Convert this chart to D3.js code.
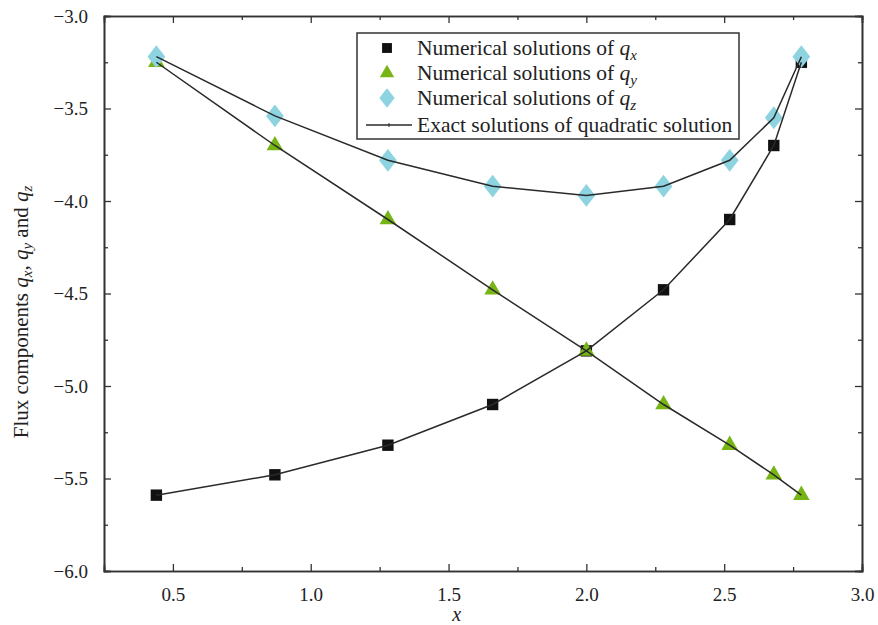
<!DOCTYPE html>
<html>
<head>
<meta charset="utf-8">
<script src="https://cdn.jsdelivr.net/npm/d3@7"></script>
<style>
  body { margin: 0; background: #fff; }
  svg text { font-family: "Liberation Serif", "Times New Roman", serif; fill: #222; }
</style>
</head>
<body>
<svg id="chart" width="878" height="625"></svg>
<script>
// data
var xs = [0.44, 0.87, 1.28, 1.66, 2.0, 2.28, 2.52, 2.68, 2.78];
var qx = [-5.59, -5.48, -5.32, -5.10, -4.81, -4.48, -4.10, -3.70, -3.25];
var qy = [-3.25, -3.70, -4.10, -4.48, -4.81, -5.10, -5.32, -5.48, -5.59];
var qz = [-3.22, -3.54, -3.78, -3.92, -3.97, -3.92, -3.78, -3.55, -3.22];
var xTicks = [0.5, 1.0, 1.5, 2.0, 2.5, 3.0];
var yTicks = [-3.0, -3.5, -4.0, -4.5, -5.0, -5.5, -6.0];

var svg = d3.select("#chart");
var mLeft = 104, mRight = 862, mTop = 16, mBottom = 571;
var serif = "'Liberation Serif', 'Times New Roman', serif";

var x = d3.scaleLinear().domain([0.25, 3.0]).range([mLeft, mRight]);
var y = d3.scaleLinear().domain([-6.0, -3.0]).range([mBottom, mTop]);

var plot = svg.append("g");

// axes, ticks inward on all four sides
function minor(a) { var out = []; for (var i = 0; i < a.length - 1; i++) out.push((a[i] + a[i + 1]) / 2); return out; }
var xMinor = minor(xTicks);
var yMinor = minor(yTicks);

function addAxis(axis, tx, ty) {
  return svg.append("g").attr("transform", "translate(" + tx + "," + ty + ")").call(axis)
    .attr("font-family", null).attr("font-size", null);
}
addAxis(d3.axisBottom(x).tickValues(xTicks).tickSize(-7).tickPadding(17).tickFormat(d3.format(".1f")), 0, mBottom);
addAxis(d3.axisBottom(x).tickValues(xMinor).tickSize(-4).tickFormat(""), 0, mBottom);
addAxis(d3.axisTop(x).tickValues(xTicks).tickSize(-7).tickFormat(""), 0, mTop);
addAxis(d3.axisTop(x).tickValues(xMinor).tickSize(-4).tickFormat(""), 0, mTop);
var axL = addAxis(d3.axisLeft(y).tickValues(yTicks).tickSize(-7).tickPadding(16).tickFormat(d3.format(".1f")), mLeft, 0);
addAxis(d3.axisLeft(y).tickValues(yMinor).tickSize(-4).tickFormat(""), mLeft, 0);
addAxis(d3.axisRight(y).tickValues(yTicks).tickSize(-7).tickFormat(""), mRight, 0);
addAxis(d3.axisRight(y).tickValues(yMinor).tickSize(-4).tickFormat(""), mRight, 0);

svg.selectAll(".domain").attr("stroke", "#333").attr("stroke-width", 1.6);
svg.selectAll(".tick line").attr("stroke", "#333").attr("stroke-width", 1.3);
svg.selectAll(".tick text").style("font-size", "19px").style("fill", "#222")
  .style("font-family", serif);
axL.selectAll(".tick text").text(function(d) { return d3.format(".1f")(d).replace("-", "\u2212"); });

// axis titles
svg.append("text").attr("x", x(1.53)).attr("y", 621).attr("text-anchor", "middle")
  .style("font-size", "20px").style("font-family", serif).attr("font-style", "italic").text("x");

var yt = svg.append("text").attr("transform", "translate(28,312) rotate(-90)")
  .attr("text-anchor", "middle").style("font-size", "21px").style("font-family", serif);
yt.append("tspan").text("Flux components ");
yt.append("tspan").attr("font-style", "italic").text("q");
yt.append("tspan").style("font-size", "15px").attr("font-style", "italic").attr("dy", 4).text("x");
yt.append("tspan").attr("dy", -4).text(", ");
yt.append("tspan").attr("font-style", "italic").text("q");
yt.append("tspan").style("font-size", "15px").attr("font-style", "italic").attr("dy", 4).text("y");
yt.append("tspan").attr("dy", -4).text(" and ");
yt.append("tspan").attr("font-style", "italic").text("q");
yt.append("tspan").style("font-size", "15px").attr("font-style", "italic").attr("dy", 4).text("z");

// series
var series = [
  { vals: qx, sym: d3.symbolSquare, size: 130, color: "#111111" },
  { vals: qy, sym: d3.symbolTriangle, size: 120, color: "#77b416" },
  { vals: qz, sym: d3.symbolDiamond, size: 150, color: "#8dd3e0", sx: 1.35 }
];

series.forEach(function(s) {
  plot.selectAll(null).data(s.vals).enter().append("path")
    .attr("d", d3.symbol().type(s.sym).size(s.size))
    .attr("fill", s.color)
    .attr("transform", function(d, i) {
      return "translate(" + x(xs[i]) + "," + y(d) + ")" + (s.sx ? " scale(" + s.sx + ",1)" : "");
    });
});

var line = d3.line().x(function(d, i) { return x(xs[i]); }).y(function(d) { return y(d); });
series.forEach(function(s) {
  plot.append("path").datum(s.vals).attr("d", line)
    .attr("fill", "none").attr("stroke", "#2a2a2a").attr("stroke-width", 1.5);
});

// legend
var lg = svg.append("g");
lg.append("rect").attr("x", 357).attr("y", 33).attr("width", 382).attr("height", 106)
  .attr("fill", "#fff").attr("stroke", "#333").attr("stroke-width", 1.5);
var labels = ["x", "y", "z"];
series.forEach(function(s, i) {
  var yy = 48 + i * 25;
  lg.append("path").attr("d", d3.symbol().type(s.sym).size(s.size * 0.75)).attr("fill", s.color)
    .attr("transform", "translate(387," + yy + ")" + (s.sx ? " scale(" + s.sx + ",1)" : ""));
  var t = lg.append("text").attr("x", 417).attr("y", yy + 7).style("font-size", "21.5px").style("font-family", serif);
  t.append("tspan").text("Numerical solutions of ");
  t.append("tspan").attr("font-style", "italic").text("q");
  t.append("tspan").attr("font-style", "italic").style("font-size", "15px").attr("dy", 5).text(labels[i]);
});
lg.append("line").attr("x1", 366).attr("x2", 412).attr("y1", 125).attr("y2", 125)
  .attr("stroke", "#2a2a2a").attr("stroke-width", 1.5);
lg.append("line").attr("x1", 389).attr("x2", 389).attr("y1", 123).attr("y2", 127)
  .attr("stroke", "#2a2a2a").attr("stroke-width", 1);
lg.append("text").attr("x", 417).attr("y", 132).style("font-size", "21.5px").style("font-family", serif)
  .text("Exact solutions of quadratic solution");
</script>
</body>
</html>
